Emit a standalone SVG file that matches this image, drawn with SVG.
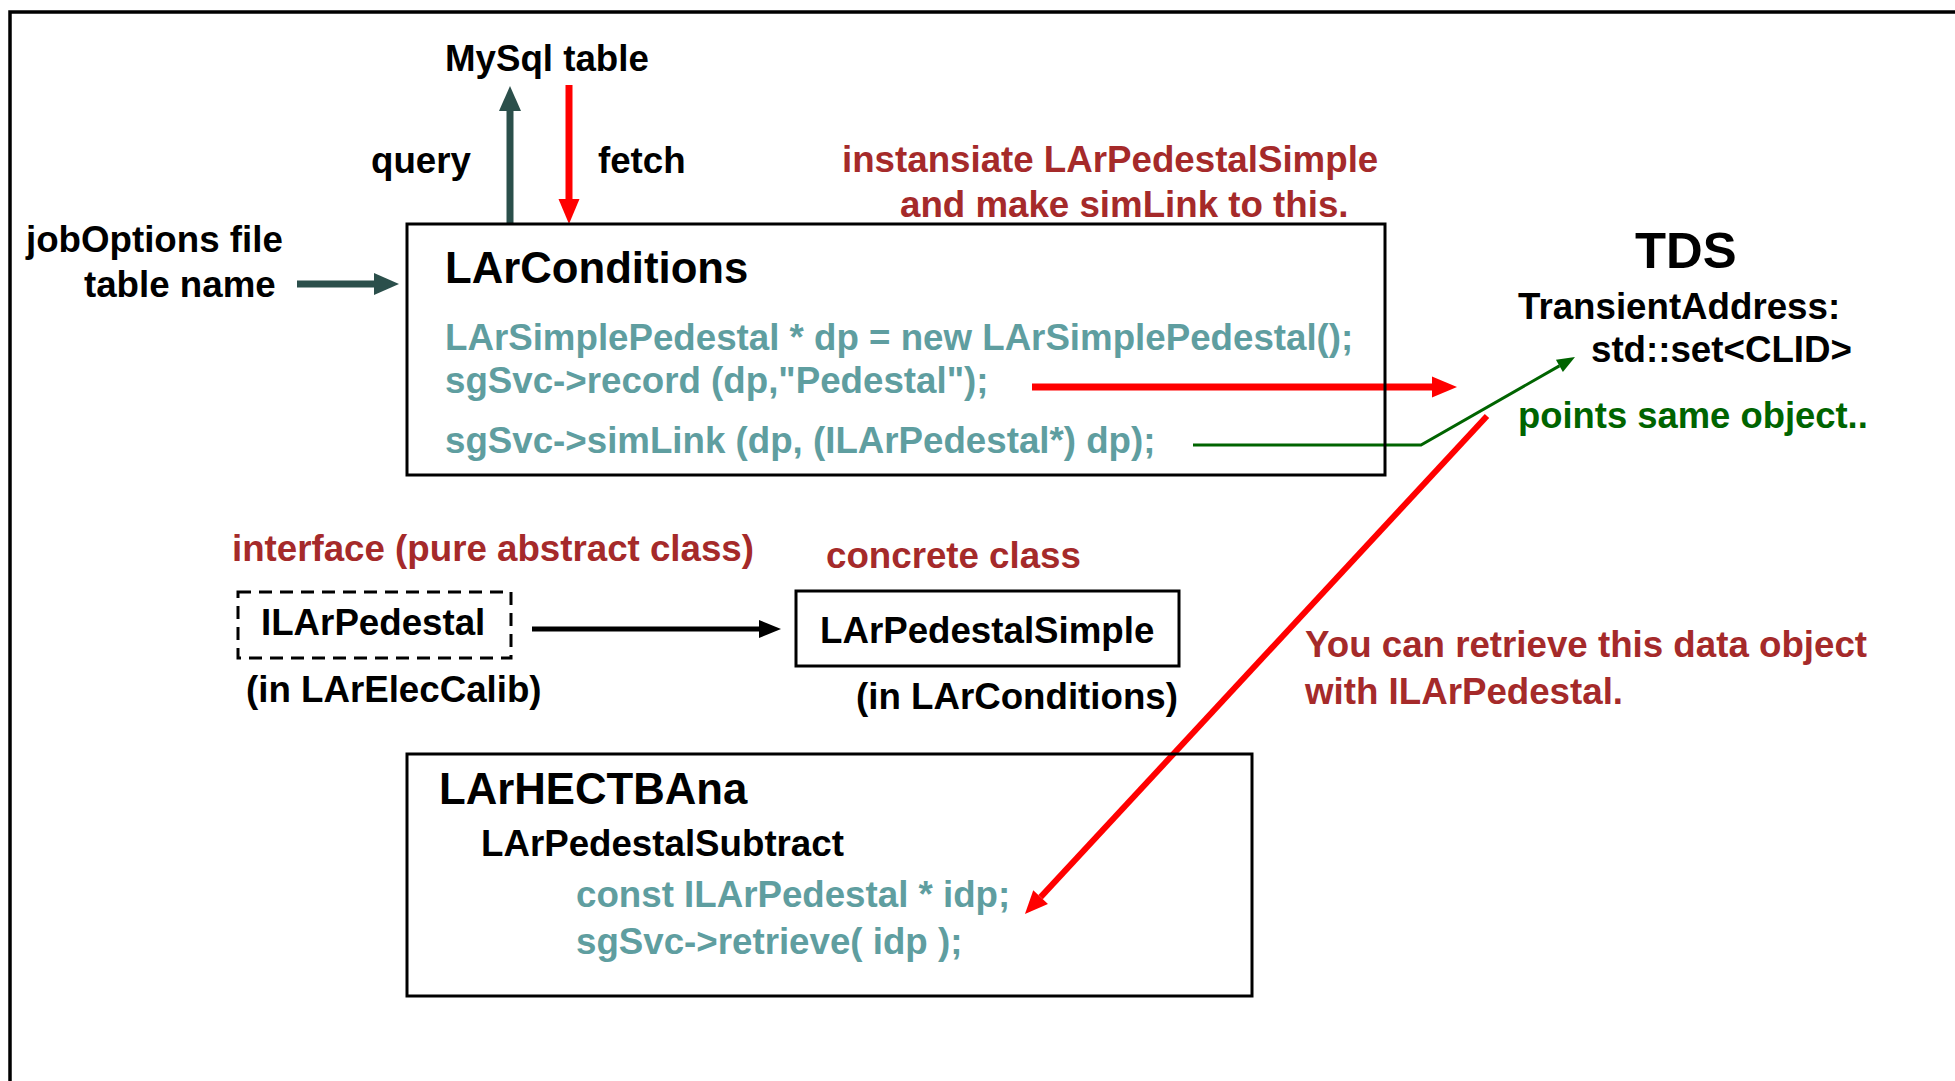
<svg xmlns="http://www.w3.org/2000/svg" width="1955" height="1081" viewBox="0 0 1955 1081">
<style>
text{font-family:"Liberation Sans",Arial,sans-serif;font-weight:bold;font-size:36.7px;fill:#000}
.t{fill:#5F9EA0}
.r{fill:#A52A2A}
.g{fill:#006400}
.big{font-size:43.7px}
.box{fill:none;stroke:#000;stroke-width:3}
.dash{stroke-dasharray:13 8}
</style>
<defs>
<marker id="hDark" markerUnits="userSpaceOnUse" orient="auto" refX="0" refY="0" markerWidth="30" markerHeight="30" style="overflow:visible"><path d="M0,-11 L25,0 L0,11 Z" fill="#2B4F4B"/></marker>
<marker id="hRed" markerUnits="userSpaceOnUse" orient="auto" refX="0" refY="0" markerWidth="30" markerHeight="30" style="overflow:visible"><path d="M0,-10.5 L25,0 L0,10.5 Z" fill="#FF0000"/></marker>
<marker id="hRed2" markerUnits="userSpaceOnUse" orient="auto" refX="0" refY="0" markerWidth="30" markerHeight="30" style="overflow:visible"><path d="M0,-10 L23,0 L0,10 Z" fill="#FF0000"/></marker>
<marker id="hGreen" markerUnits="userSpaceOnUse" orient="auto" refX="0" refY="0" markerWidth="30" markerHeight="30" style="overflow:visible"><path d="M0,-7 L18,0 L0,7 Z" fill="#006400"/></marker>
<marker id="hBlack" markerUnits="userSpaceOnUse" orient="auto" refX="0" refY="0" markerWidth="30" markerHeight="30" style="overflow:visible"><path d="M0,-9 L22,0 L0,9 Z" fill="#000"/></marker>
</defs>
<rect x="10" y="12" width="2000" height="1100" fill="none" stroke="#000" stroke-width="3.5"/>

<g id="connectors">
<line x1="510" y1="224" x2="510" y2="111" stroke="#2B4F4B" stroke-width="7" marker-end="url(#hDark)"/>
<line x1="569" y1="85" x2="569" y2="199" stroke="#FF0000" stroke-width="7" marker-end="url(#hRed)"/>
<line x1="297" y1="284" x2="374" y2="284" stroke="#2B4F4B" stroke-width="7" marker-end="url(#hDark)"/>
<line x1="1032" y1="387" x2="1432" y2="387" stroke="#FF0000" stroke-width="7" marker-end="url(#hRed)"/>
<polyline points="1193,445 1421,445 1559.4,365.9" fill="none" stroke="#006400" stroke-width="3" marker-end="url(#hGreen)"/>
<line x1="1487" y1="416" x2="1040.6" y2="897.1" stroke="#FF0000" stroke-width="6" marker-end="url(#hRed2)"/>
<line x1="532" y1="629" x2="759" y2="629" stroke="#000" stroke-width="5" marker-end="url(#hBlack)"/>
</g>

<g id="mysql"><text x="445" y="71">MySql table</text></g>
<g id="labels">
<text x="371" y="173">query</text>
<text x="598" y="173">fetch</text>
<text x="26" y="252">jobOptions file</text>
<text x="84" y="297">table name</text>
<text class="r" x="842" y="172">instansiate LArPedestalSimple</text>
<text class="r" x="900" y="217">and make simLink to this.</text>
<text class="r" x="1305" y="657">You can retrieve this data object</text>
<text class="r" x="1305" y="704">with ILArPedestal.</text>
</g>

<g id="LArConditions">
<rect class="box" x="407" y="224" width="978" height="251"/>
<text class="big" x="445" y="283">LArConditions</text>
<text class="t" x="445" y="350">LArSimplePedestal * dp = new LArSimplePedestal();</text>
<text class="t" x="445" y="393">sgSvc-&gt;record (dp,"Pedestal");</text>
<text class="t" x="445" y="453">sgSvc-&gt;simLink (dp, (ILArPedestal*) dp);</text>
</g>

<g id="TDS">
<text x="1635" y="268" style="font-size:50.8px">TDS</text>
<text x="1518" y="319">TransientAddress:</text>
<text x="1591" y="362">std::set&lt;CLID&gt;</text>
<text class="g" x="1518" y="428" style="font-size:36.4px">points same object..</text>
</g>

<g id="ILArPedestal">
<text class="r" x="232" y="561">interface (pure abstract class)</text>
<rect class="box dash" x="238" y="592" width="273" height="66"/>
<text x="261" y="635">ILArPedestal</text>
<text x="246" y="702">(in LArElecCalib)</text>
</g>

<g id="LArPedestalSimple">
<text class="r" x="826" y="568">concrete class</text>
<rect class="box" x="796" y="591" width="383" height="75"/>
<text x="820" y="643">LArPedestalSimple</text>
<text x="856" y="709">(in LArConditions)</text>
</g>

<g id="LArHECTBAna">
<rect class="box" x="407" y="754" width="845" height="242"/>
<text class="big" x="439" y="804">LArHECTBAna</text>
<text x="481" y="856">LArPedestalSubtract</text>
<text class="t" x="576" y="907">const ILArPedestal * idp;</text>
<text class="t" x="576" y="954">sgSvc-&gt;retrieve( idp );</text>
</g>
</svg>
